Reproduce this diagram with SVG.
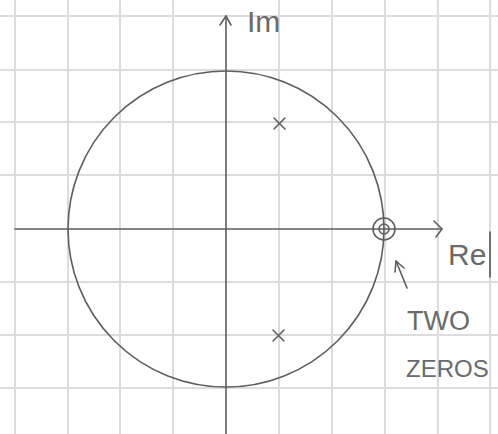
<svg xmlns="http://www.w3.org/2000/svg" width="498" height="434" viewBox="0 0 498 434">
<defs>
<style>
.grid line{stroke:#dcdcdc;stroke-width:2}
.ink{stroke:#5e5e5e;stroke-width:1.6;fill:none;stroke-linecap:round;stroke-linejoin:round}
.lbl{font-family:"Liberation Sans",Arial,sans-serif;fill:#6a6a6a}
</style>
</defs>
<rect width="498" height="434" fill="#ffffff"/>
<g class="grid" id="grid">
<line x1="15" y1="0" x2="15" y2="434"/>
<line x1="68" y1="0" x2="68" y2="434"/>
<line x1="120" y1="0" x2="120" y2="434"/>
<line x1="173" y1="0" x2="173" y2="434"/>
<line x1="279" y1="0" x2="279" y2="434"/>
<line x1="332" y1="0" x2="332" y2="434"/>
<line x1="385" y1="0" x2="385" y2="434"/>
<line x1="438" y1="0" x2="438" y2="434"/>
<line x1="490" y1="0" x2="490" y2="434"/>
<line x1="0" y1="16" x2="498" y2="16"/>
<line x1="0" y1="70" x2="498" y2="70"/>
<line x1="0" y1="122" x2="498" y2="122"/>
<line x1="0" y1="175" x2="498" y2="175"/>
<line x1="0" y1="282" x2="498" y2="282"/>
<line x1="0" y1="335" x2="498" y2="335"/>
<line x1="0" y1="388" x2="498" y2="388"/>
</g>
<g id="connectors" class="ink">
<path d="M15 229 L442 229"/>
<path d="M434 221 L442 229 L436 237"/>
<path d="M226 434 L226 16"/>
<path d="M220 25 L226 16 L231 25"/>
<path d="M407 288 L396 261"/>
<path d="M395 272 L396 261 L404 268"/>
<line x1="490" y1="232" x2="490" y2="277" stroke="#555"/>
</g>
<g id="unit-circle"><circle class="ink" cx="226" cy="229" r="158"/></g>
<g id="pole-upper" class="ink"><path d="M274 118 L285 129 M285 118 L274 129"/></g>
<g id="pole-lower" class="ink"><path d="M273 330 L284 341 M284 330 L273 341"/></g>
<g id="zeros" class="ink"><circle cx="384" cy="229" r="5"/><circle cx="384" cy="229" r="11"/></g>
<g id="label-im"><text class="lbl" x="247" y="32" font-size="30">Im</text></g>
<g id="label-re"><text class="lbl" x="448" y="265" font-size="30">Re</text></g>
<g id="label-two-zeros">
<text class="lbl" x="407" y="330" font-size="27">TWO</text>
<text class="lbl" x="406" y="377" font-size="24">ZEROS</text>
</g>
</svg>
